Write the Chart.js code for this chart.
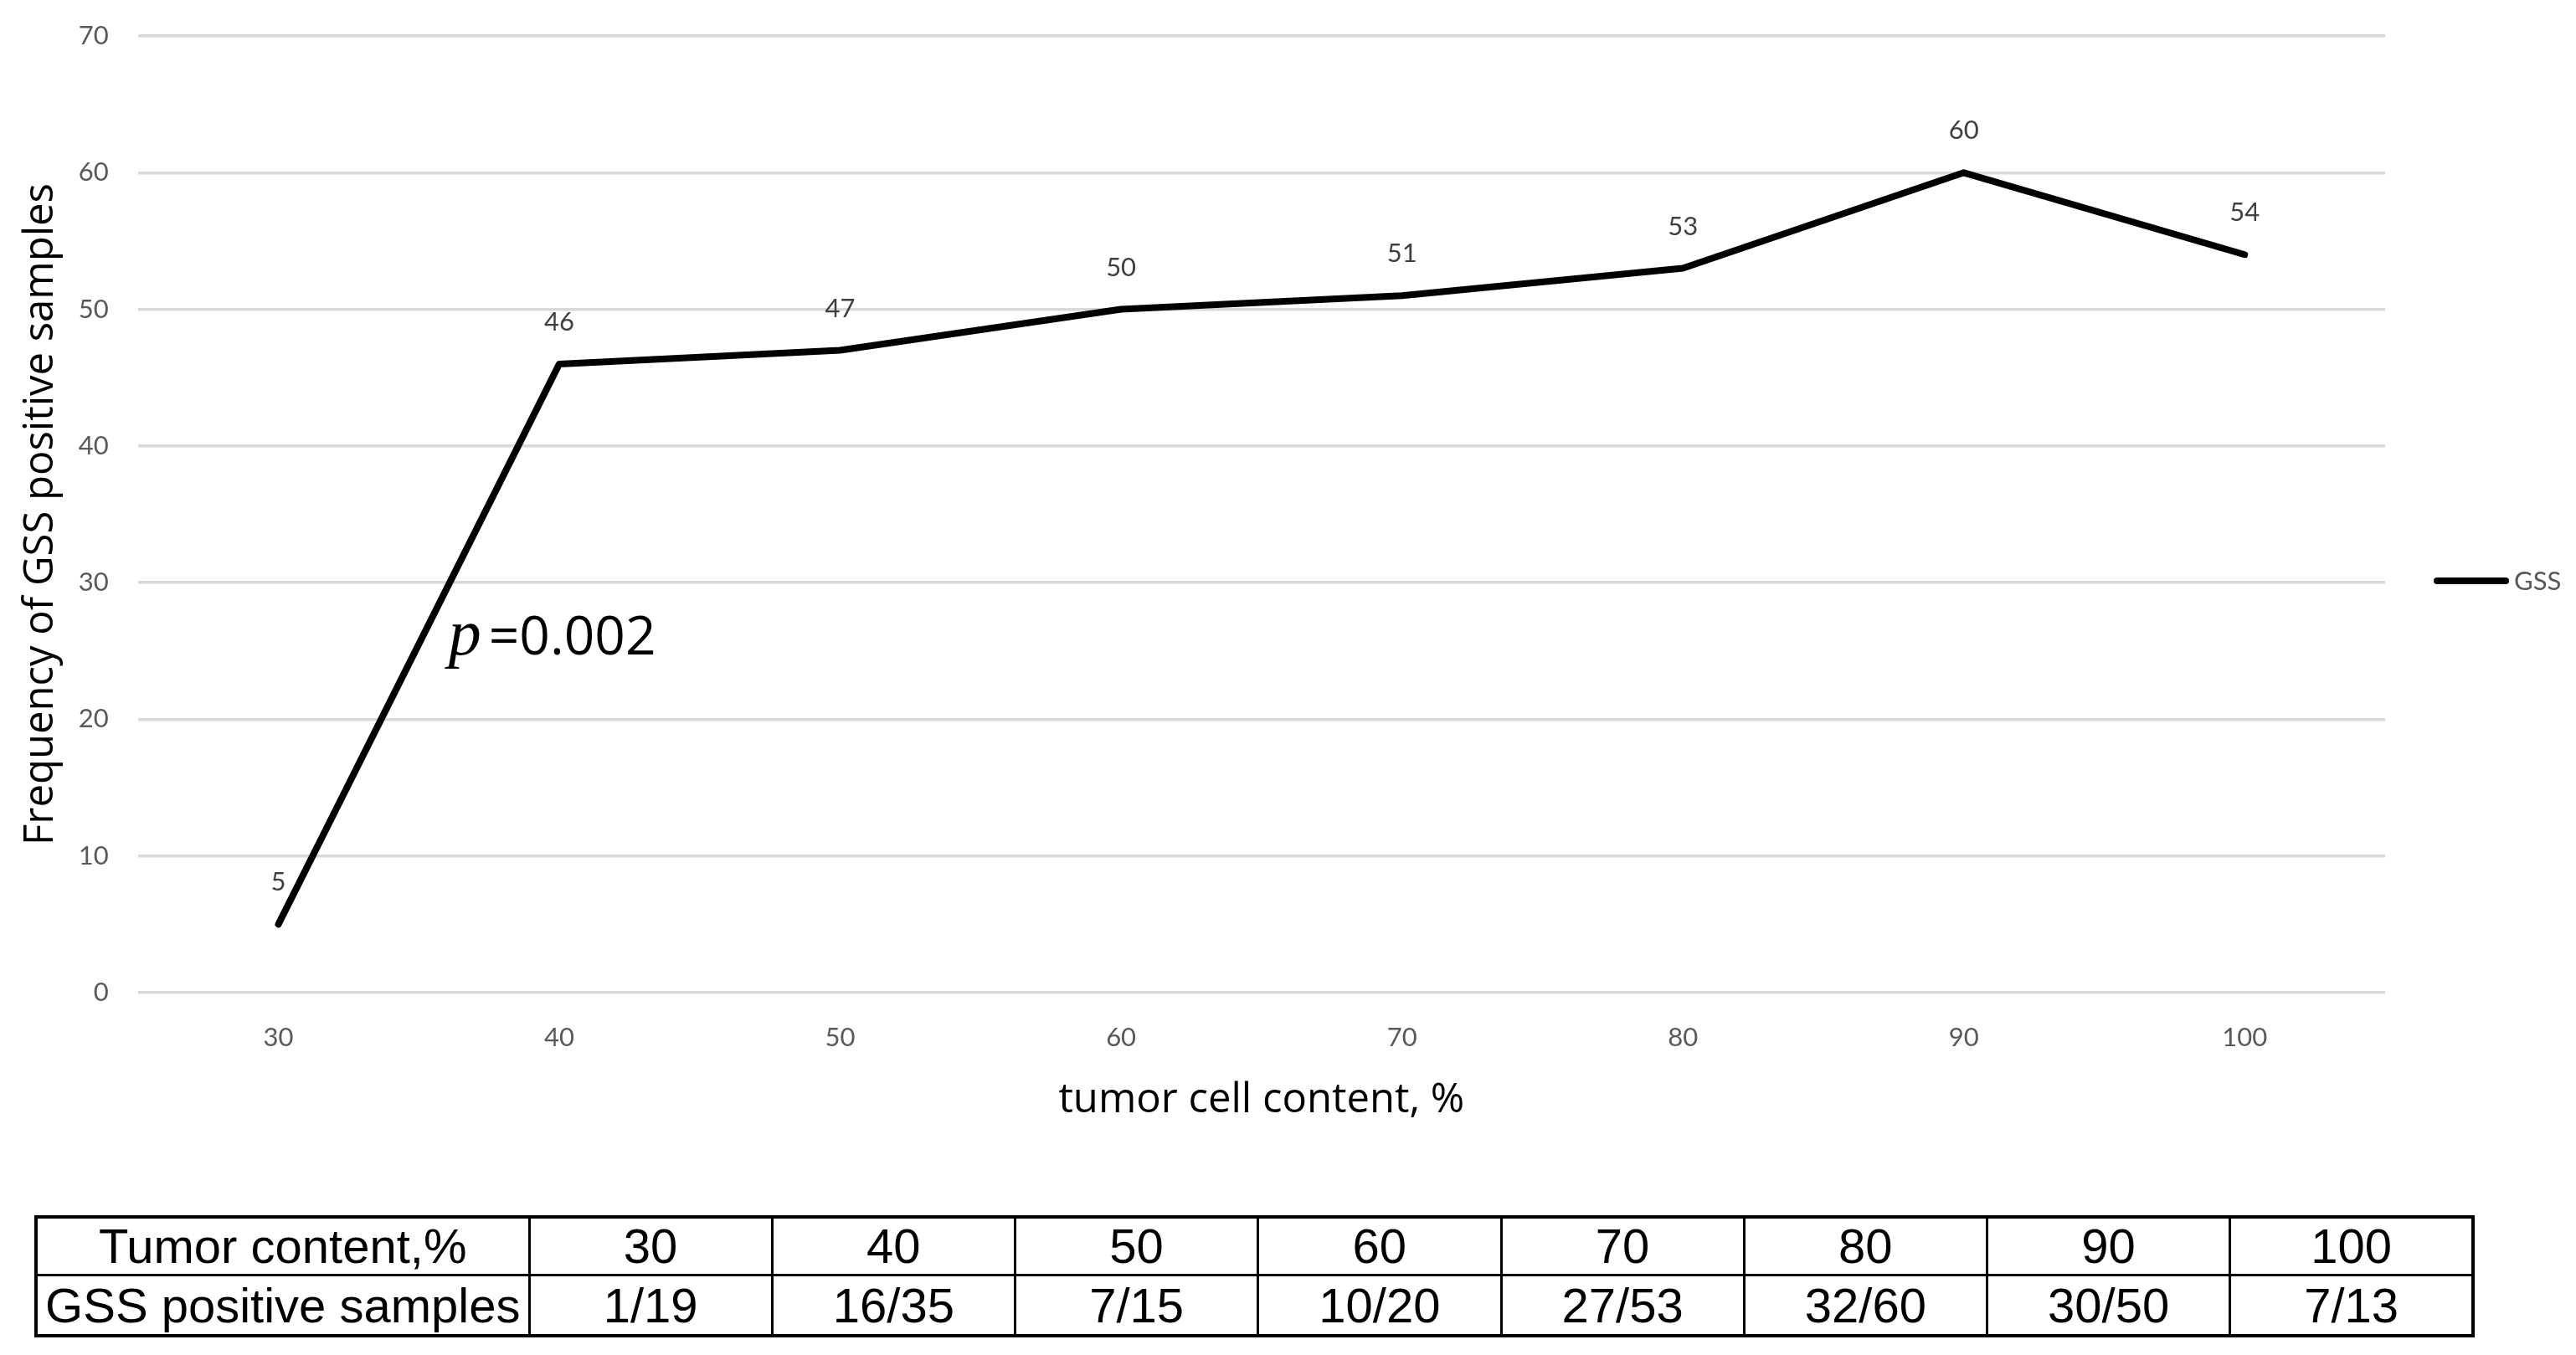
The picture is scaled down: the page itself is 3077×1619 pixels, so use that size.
<!DOCTYPE html>
<html>
<head>
<meta charset="utf-8">
<title>GSS frequency vs tumor cell content</title>
<script src="https://cdn.jsdelivr.net/npm/chart.js@4.4.1/dist/chart.umd.min.js"></script>
<style>
  html, body { margin: 0; padding: 0; background: #fff; }
  #page { position: relative; width: 3077px; height: 1619px; overflow: hidden; background: #fff; }
  #chartBox { position: absolute; left: 0; top: 0; width: 3077px; height: 1400px; }
  #gssTable {
    position: absolute; left: 41px; top: 1452px; width: 2915px;
    border-collapse: collapse; table-layout: fixed;
    font-family: "Liberation Sans", Arial, sans-serif; font-size: 58px; color: #000;
    border: 4px solid #000;
  }
  #gssTable td {
    border: 3px solid #000; text-align: center; padding: 0;
    line-height: 1; white-space: nowrap; overflow: hidden;
  }
  #gssTable tr.r1 td { height: 66px; }
  #gssTable tr.r2 td { height: 69px; }
</style>
</head>
<body>
<div id="page">
  <div id="chartBox"><canvas id="gssChart"></canvas></div>
  <table id="gssTable">
    <colgroup id="cols"></colgroup>
    <tbody id="tblBody"></tbody>
  </table>
</div>

<script>
// --- données ---
const tumorContent = ['30', '40', '50', '60', '70', '80', '90', '100'];
const gssFreq      = [5, 46, 47, 50, 51, 53, 60, 54];
const gssPositive  = ['1/19', '16/35', '7/15', '10/20', '27/53', '32/60', '30/50', '7/13'];
const yTicks       = [0, 10, 20, 30, 40, 50, 60, 70];
const rowHeads     = ['Tumor content,%', 'GSS positive samples'];
const pValueText   = '=0.002';

// ── tableau sous le graphique ──
(function buildTable() {
  const cols = document.getElementById('cols');
  cols.innerHTML = '<col style="width:589px">' + tumorContent.map(() => '<col>').join('');
  const tb = document.getElementById('tblBody');
  tb.innerHTML =
    `<tr class="r1"><td>${rowHeads[0]}</td>${tumorContent.map(t => `<td>${t}</td>`).join('')}</tr>` +
    `<tr class="r2"><td>${rowHeads[1]}</td>${gssPositive.map(t => `<td>${t}</td>`).join('')}</tr>`;
})();

// ── étiquettes de valeurs au-dessus des points ──
const valueLabels = {
  id: 'valueLabels',
  afterDatasetsDraw(chart) {
    const ctx = chart.ctx;
    const meta = chart.getDatasetMeta(0);
    ctx.save();
    ctx.font = '31px Lato';
    ctx.fillStyle = '#404040';
    ctx.textAlign = 'center';
    ctx.textBaseline = 'middle';
    meta.data.forEach((pt, i) => ctx.fillText(String(gssFreq[i]), pt.x, pt.y - 50));
    ctx.restore();
  }
};

// ── annotation p=0.002 ──
const pAnnot = {
  id: 'pAnnot',
  afterDraw(chart) {
    const { ctx, chartArea } = chart;
    const x = chartArea.left + 371, y = 782;
    ctx.save();
    ctx.fillStyle = '#000';
    ctx.textBaseline = 'alphabetic';
    ctx.textAlign = 'left';
    ctx.font = 'italic 78px "Liberation Serif"';
    ctx.fillText('p', x, y);
    ctx.font = '64px "Open Sans"';
    ctx.fillText(pValueText, x + 48, y);
    ctx.restore();
  }
};

// ── légende à droite (ligne + texte) ──
const sideLegend = {
  id: 'sideLegend',
  afterDraw(chart) {
    const { ctx, chartArea } = chart;
    const ds = chart.data.datasets[0];
    const x0 = chartArea.right + 62, y = 694;
    ctx.save();
    ctx.strokeStyle = ds.borderColor;
    ctx.lineWidth = 8;
    ctx.lineCap = 'round';
    ctx.beginPath();
    ctx.moveTo(x0, y);
    ctx.lineTo(x0 + 82, y);
    ctx.stroke();
    ctx.font = '31px Lato';
    ctx.fillStyle = '#595959';
    ctx.textBaseline = 'middle';
    ctx.fillText(ds.label, x0 + 92, y + 1);
    ctx.restore();
  }
};

new Chart(document.getElementById('gssChart'), {
  type: 'line',
  data: {
    labels: tumorContent,
    datasets: [{
      label: 'GSS',
      data: gssFreq,
      borderColor: '#000',
      borderWidth: 8,
      borderCapStyle: 'round',
      borderJoinStyle: 'round',
      pointRadius: 0,
      tension: 0,
      fill: false
    }]
  },
  options: {
    responsive: true,
    maintainAspectRatio: false,
    animation: false,
    layout: { padding: { top: 43, right: 228, bottom: 56, left: 0 } },
    plugins: {
      legend: { display: false },
      tooltip: { enabled: false }
    },
    scales: {
      x: {
        offset: true,
        grid: { display: false },
        border: { display: false },
        ticks: { color: '#595959', font: { family: 'Lato', size: 31 }, padding: 27 },
        title: {
          display: true, text: 'tumor cell content, %', color: '#000',
          font: { family: 'Open Sans', size: 49 }, padding: { top: 0, bottom: 0 }
        }
      },
      y: {
        min: 0, max: 70,
        afterBuildTicks: axis => { axis.ticks = yTicks.map(v => ({ value: v })); },
        // tick marks invisible: leur longueur sert d'espace entre libellés et grille
        grid: { color: '#d9d9d9', lineWidth: 3.5, drawTicks: true, tickLength: 25, tickColor: 'rgba(0,0,0,0)' },
        border: { display: false },
        ticks: { color: '#595959', font: { family: 'Lato', size: 31 }, padding: 10 },
        title: {
          display: true, text: 'Frequency of GSS positive samples', color: '#000',
          font: { family: 'Open Sans', size: 49 }, padding: { top: 20, bottom: 5 }
        }
      }
    }
  },
  plugins: [valueLabels, pAnnot, sideLegend]
});
</script>
</body>
</html>
